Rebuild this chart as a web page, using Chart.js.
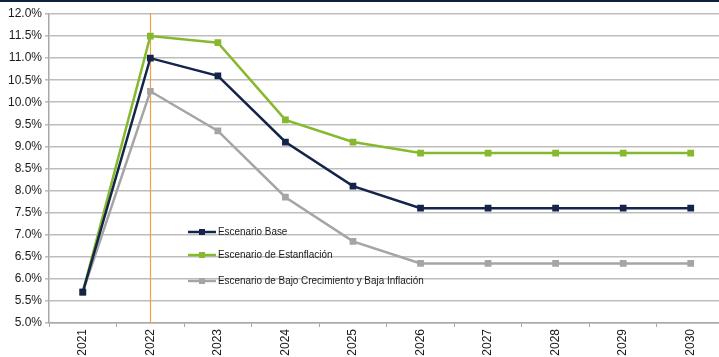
<!DOCTYPE html>
<html>
<head>
<meta charset="utf-8">
<script src="https://cdn.jsdelivr.net/npm/chart.js@4/dist/chart.umd.min.js"></script>
<style>
  html, body { margin: 0; padding: 0; background: #fff; overflow: hidden; }
  #wrap { position: relative; width: 730px; height: 357px; }
  #topRule { position: absolute; left: 0; top: 0; width: 719px; height: 2px; background: #0f2140; z-index: 2; }
  canvas { display: block; }
</style>
</head>
<body>
<div id="wrap">
  <div id="topRule"></div>
  <canvas id="c" width="730" height="357"></canvas>
</div>
<script>
const years = ['2021', '2022', '2023', '2024', '2025', '2026', '2027', '2028', '2029', '2030'];
const escenarioBase = [5.7, 11.0, 10.6, 9.1, 8.1, 7.6, 7.6, 7.6, 7.6, 7.6];
const escenarioEstanflacion = [5.7, 11.5, 11.35, 9.6, 9.1, 8.85, 8.85, 8.85, 8.85, 8.85];
const escenarioBajo = [5.7, 10.25, 9.35, 7.85, 6.85, 6.35, 6.35, 6.35, 6.35, 6.35];
const seriesNames = ['Escenario Base', 'Escenario de Estanflación', 'Escenario de Bajo Crecimiento y Baja Inflación'];
const markerYear = '2022';

const FONT = "'Liberation Sans', Arial, sans-serif";

function series(label, data, color) {
  return {
    label, data,
    borderColor: color, backgroundColor: color,
    borderWidth: 2.5, pointStyle: 'rect', pointRadius: 3, pointHoverRadius: 3,
    tension: 0, fill: false
  };
}

// Vertical reference line at the marker year
const yearLine = {
  id: 'yearLine',
  beforeDatasetsDraw(chart) {
    const { ctx, chartArea, scales } = chart;
    const x = Math.round(scales.x.getPixelForValue(years.indexOf(markerYear))) + 0.5;
    ctx.save();
    ctx.strokeStyle = '#f0a04b';
    ctx.lineWidth = 1.2;
    ctx.beginPath();
    ctx.moveTo(x, chartArea.top - 1);
    ctx.lineTo(x, chartArea.bottom);
    ctx.stroke();
    ctx.restore();
  }
};

// Legend drawn inside the plot area, in a condensed face
const innerLegend = {
  id: 'innerLegend',
  afterDatasetsDraw(chart) {
    const { ctx } = chart;
    const rows = [232, 255, 281];
    ctx.save();
    ctx.font = '11px ' + FONT;
    ctx.textBaseline = 'middle';
    chart.data.datasets.forEach((ds, i) => {
      const y = rows[i];
      ctx.strokeStyle = ds.borderColor;
      ctx.lineWidth = 2.5;
      ctx.beginPath();
      ctx.moveTo(188, y);
      ctx.lineTo(216, y);
      ctx.stroke();
      ctx.fillStyle = ds.borderColor;
      ctx.fillRect(199, y - 3, 6, 6);
      ctx.fillStyle = '#1a1a1a';
      ctx.save();
      ctx.translate(218, y);
      ctx.scale(0.9, 1);
      ctx.fillText(ds.label, 0, 0);
      ctx.restore();
    });
    ctx.restore();
  }
};

new Chart(document.getElementById('c'), {
  type: 'line',
  data: {
    labels: years,
    datasets: [
      series(seriesNames[0], escenarioBase, '#14244a'),
      series(seriesNames[1], escenarioEstanflacion, '#86b92e'),
      series(seriesNames[2], escenarioBajo, '#a5a5a5')
    ]
  },
  options: {
    responsive: false,
    animation: false,
    layout: { padding: { top: 14, right: 3, left: 0, bottom: 0 } },
    plugins: { legend: { display: false }, tooltip: { enabled: false } },
    scales: {
      x: {
        offset: true,
        afterFit(s) { s.height = 34; },
        grid: { offset: true, drawOnChartArea: false, drawTicks: true, tickLength: 4, color: '#a8a8a8', lineWidth: 1 },
        border: { color: '#a8a8a8', width: 1.5 },
        ticks: {
          minRotation: 90, maxRotation: 90, autoSkip: false, padding: 2,
          color: '#1a1a1a', font: { family: FONT, size: 12 }
        }
      },
      y: {
        min: 5, max: 12,
        afterFit(s) { s.width = 49; },
        grid: { color: '#bdbdbd', lineWidth: 1.6, tickLength: 4, drawTicks: true },
        border: { color: '#a8a8a8', width: 1.5 },
        ticks: {
          stepSize: 0.5, padding: 3, color: '#1a1a1a',
          font: { family: FONT, size: 12 },
          callback: v => Number(v).toFixed(1) + '%'
        }
      }
    }
  },
  plugins: [yearLine, innerLegend]
});
</script>
</body>
</html>
